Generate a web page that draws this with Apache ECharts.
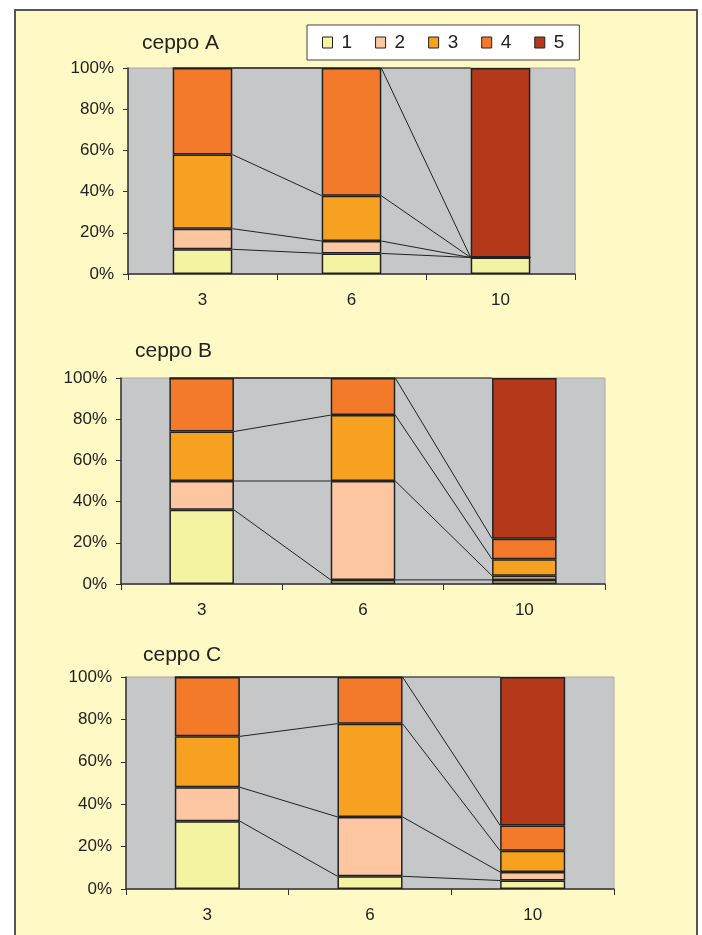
<!DOCTYPE html>
<html>
<head>
<meta charset="utf-8">
<script src="https://cdn.jsdelivr.net/npm/echarts@6/dist/echarts.min.js"></script>
<style>
  html, body { margin: 0; padding: 0; background: #ffffff; }
  #frame { position: absolute; left: 14px; top: 9px; width: 680px; height: 960px;
           border: 2px solid #555; background: #FFF9C6; }
  #chart { position: absolute; left: 0; top: 0; width: 702px; height: 935px; }
</style>
</head>
<body>
<div id="frame"></div>
<div id="chart"></div>
<script>
const categories = ['3', '6', '10'];
const seriesNames = ['1', '2', '3', '4', '5'];
const titles = ['ceppo A', 'ceppo B', 'ceppo C'];
const yTicks = [0, 20, 40, 60, 80, 100];

// ceppo A
const A1 = [12, 10, 8];
const A2 = [10, 6, 0];
const A3 = [36, 22, 0];
const A4 = [42, 62, 0];
const A5 = [0, 0, 92];
// ceppo B
const B1 = [36, 2, 2];
const B2 = [14, 48, 2];
const B3 = [24, 32, 8];
const B4 = [26, 18, 10];
const B5 = [0, 0, 78];
// ceppo C
const C1 = [32, 6, 4];
const C2 = [16, 28, 4];
const C3 = [24, 44, 10];
const C4 = [28, 22, 12];
const C5 = [0, 0, 70];

const colors = ['#F3F3A1', '#FCC7A0', '#F7A120', '#F37A29', '#B4391B'];
const FONT = 'Liberation Sans';

const panels = [
  { data: [A1, A2, A3, A4, A5], grid: { left: 128, top: 68, width: 447, height: 206 }, title: { left: 142, top: 33 } },
  { data: [B1, B2, B3, B4, B5], grid: { left: 121, top: 378, width: 484, height: 206 }, title: { left: 135, top: 341 } },
  { data: [C1, C2, C3, C4, C5], grid: { left: 126, top: 677, width: 488, height: 212 }, title: { left: 143, top: 645 } }
];

const grids = [], xAxes = [], yAxes = [], series = [], titleOpts = [];

panels.forEach((p, pi) => {
  grids.push(Object.assign({ show: true, backgroundColor: '#C6C7C9', borderColor: '#A8A8A8', borderWidth: 1 }, p.grid));
  titleOpts.push({ text: titles[pi], left: p.title.left, top: p.title.top, padding: 0,
    textStyle: { fontFamily: FONT, fontSize: 21, fontWeight: 'normal', color: '#222' } });
  xAxes.push({
    type: 'category', gridIndex: pi, data: categories,
    axisLine: { show: true, lineStyle: { color: '#333', width: 1.5 } },
    axisTick: { show: true, alignWithLabel: false, length: 6, lineStyle: { color: '#333' } },
    axisLabel: { fontFamily: FONT, fontSize: 17, color: '#222', margin: 18 }
  });
  yAxes.push({
    type: 'value', gridIndex: pi, min: 0, max: 100, interval: 20,
    axisLine: { show: true, lineStyle: { color: '#333', width: 1.5 } },
    axisTick: { show: true, length: 5, lineStyle: { color: '#333' } },
    splitLine: { show: false },
    axisLabel: { fontFamily: FONT, fontSize: 17, color: '#222', margin: 14, formatter: '{value}%' }
  });
  p.data.forEach((vals, si) => {
    series.push({
      type: 'bar', name: seriesNames[si], xAxisIndex: pi, yAxisIndex: pi,
      stack: 'stack' + pi, barWidth: '40%', data: vals,
      itemStyle: { color: colors[si], borderColor: '#222', borderWidth: 1.5 },
      emphasis: { disabled: true }, z: 3
    });
  });
  // series lines (Excel style): connect cumulative tops between adjacent bars
  const lineData = [];
  for (let i = 0; i < categories.length - 1; i++) {
    let c0 = 0, c1 = 0;
    for (let k = 0; k < p.data.length; k++) {
      c0 += p.data[k][i];
      c1 += p.data[k][i + 1];
      lineData.push([i, c0, c1]);
    }
  }
  series.push({
    type: 'custom', name: 'serieslines' + pi, xAxisIndex: pi, yAxisIndex: pi,
    data: lineData, encode: { x: 0, y: 1 }, z: 2, silent: true,
    renderItem: function (params, api) {
      const i = api.value(0);
      const p1 = api.coord([i, api.value(1)]);
      const p2 = api.coord([i + 1, api.value(2)]);
      const half = api.size([1, 0])[0] * 0.2;
      return {
        type: 'line',
        shape: { x1: p1[0] + half, y1: p1[1], x2: p2[0] - half, y2: p2[1] },
        style: { stroke: '#222', lineWidth: 1 }
      };
    }
  });
});

const chart = echarts.init(document.getElementById('chart'), null, { renderer: 'canvas' });
chart.setOption({
  animation: false,
  backgroundColor: 'transparent',
  title: titleOpts,
  legend: {
    data: seriesNames, left: 307, top: 25, orient: 'horizontal',
    itemWidth: 10, itemHeight: 11, itemGap: 23,
    padding: [8, 15, 8, 15],
    backgroundColor: '#ffffff', borderColor: '#444', borderWidth: 1,
    icon: 'rect',
    itemStyle: { borderColor: '#222', borderWidth: 1 },
    textStyle: { fontFamily: FONT, fontSize: 19, color: '#222', padding: [0, 0, 0, 4] },
    selectedMode: false
  },
  grid: grids,
  xAxis: xAxes,
  yAxis: yAxes,
  series: series
});
</script>
</body>
</html>
